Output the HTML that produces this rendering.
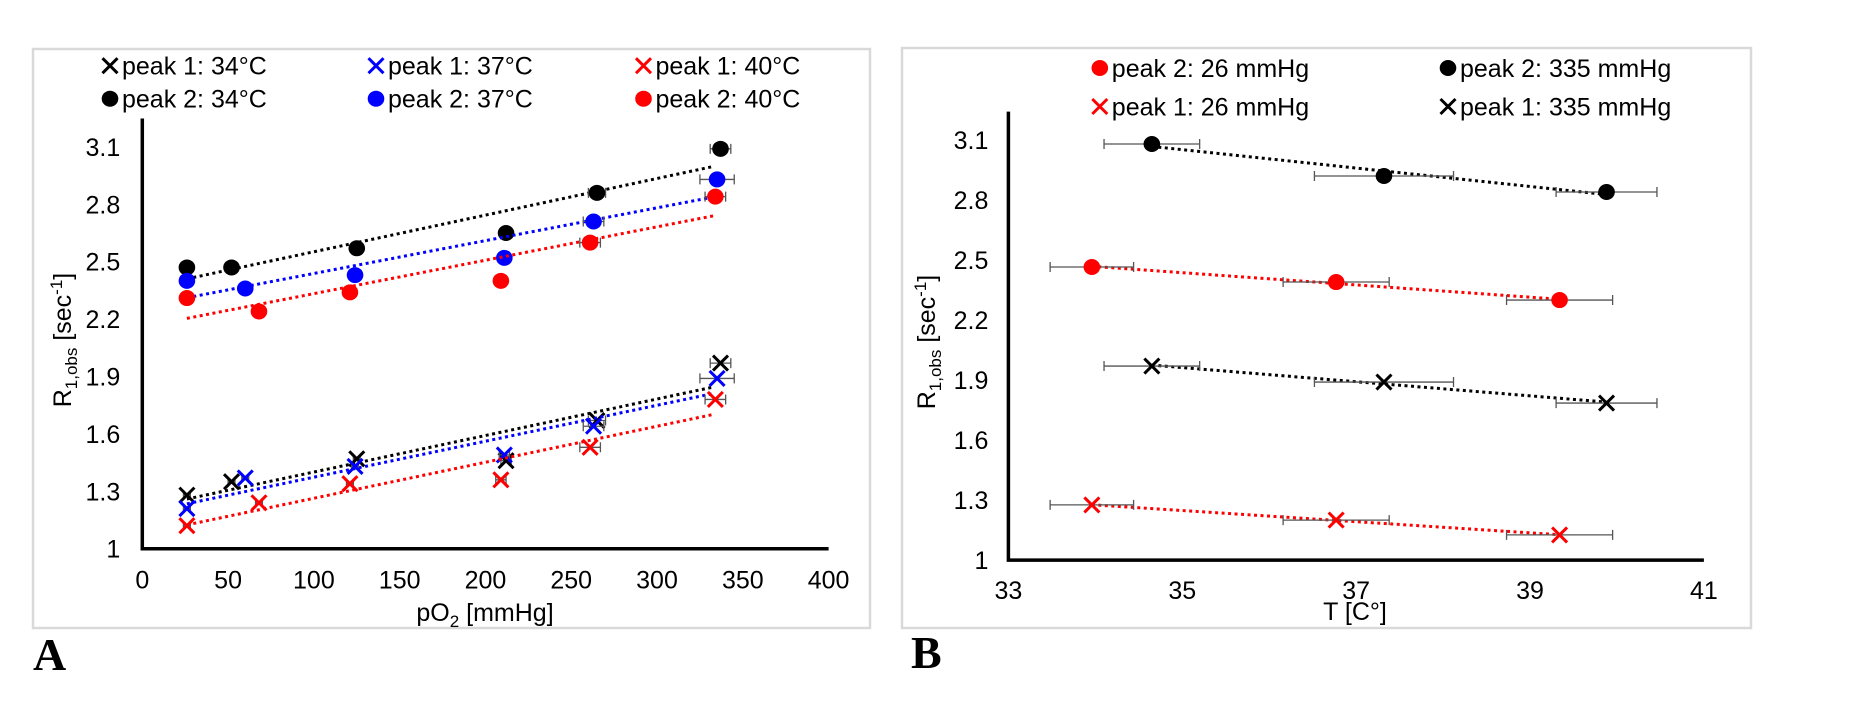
<!DOCTYPE html>
<html><head><meta charset="utf-8">
<style>
html,body{margin:0;padding:0;background:#fff;}
svg{display:block;font-family:"Liberation Sans",Arial,sans-serif;}
</style></head>
<body>
<svg id="fig" width="1855" height="720" viewBox="0 0 1855 720" xmlns="http://www.w3.org/2000/svg">
  <rect x="33" y="49" width="837" height="579" fill="#fff" stroke="#d9d9d9" stroke-width="2.5"/>
  <rect x="902" y="48" width="849" height="580" fill="#fff" stroke="#d9d9d9" stroke-width="2.5"/>
  <g id="ga"></g>
  <g id="gb"></g>
  <text x="33" y="670" font-family="Liberation Serif, serif" font-weight="bold" font-size="46">A</text>
  <text x="911" y="668" font-family="Liberation Serif, serif" font-weight="bold" font-size="46">B</text>
</svg>
<script>
// ---- Chart A data ----
const aXTicks = [0,50,100,150,200,250,300,350,400];
const aYTicks = [1,1.3,1.6,1.9,2.2,2.5,2.8,3.1];
const aX_34 = [26,52,125,212,265,337];
const aX_37 = [26,60,124,211,263,335];
const aX_40 = [26,68,121,209,261,334];
const aP2_34 = [2.47,2.47,2.57,2.65,2.86,3.09];
const aP2_37 = [2.40,2.36,2.43,2.52,2.71,2.93];
const aP2_40 = [2.31,2.24,2.34,2.40,2.60,2.84];
const aP1_34 = [1.28,1.35,1.47,1.46,1.67,1.97];
const aP1_37 = [1.21,1.37,1.43,1.49,1.64,1.89];
const aP1_40 = [1.12,1.24,1.34,1.36,1.53,1.78];
const aErr_34 = [2,2,2,3,5,6];
const aErr_37 = [2,2,2,3,6,10];
const aErr_40 = [2,2,2,3,6,6];
const aLegend = ["peak 1: 34°C","peak 1: 37°C","peak 1: 40°C","peak 2: 34°C","peak 2: 37°C","peak 2: 40°C"];

// ---- Chart B data ----
const bXTicks = [33,35,37,39,41];
const bYTicks = [1,1.3,1.6,1.9,2.2,2.5,2.8,3.1];
const bT_335 = [34.65,37.32,39.88];
const bT_26 = [33.96,36.77,39.34];
const bP2_335 = [3.08,2.92,2.84];
const bP2_26 = [2.465,2.39,2.30];
const bP1_335 = [1.97,1.89,1.785];
const bP1_26 = [1.276,1.20,1.126];
const bErr_335 = [0.55,0.8,0.58];
const bErr_26 = [0.48,0.61,0.61];
const bLegend = ["peak 2: 26 mmHg","peak 2: 335 mmHg","peak 1: 26 mmHg","peak 1: 335 mmHg"];

const NS="http://www.w3.org/2000/svg";
function mk(parent,tag,attrs,txt){const e=document.createElementNS(NS,tag);for(const k in attrs)e.setAttribute(k,attrs[k]);if(txt!==undefined)e.textContent=txt;parent.appendChild(e);return e;}
function fit(xs,ys){const n=xs.length;let sx=0,sy=0,sxx=0,sxy=0;for(let i=0;i<n;i++){sx+=xs[i];sy+=ys[i];sxx+=xs[i]*xs[i];sxy+=xs[i]*ys[i];}const m=(n*sxy-sx*sy)/(n*sxx-sx*sx);return [m,(sy-m*sx)/n];}
function marker(g,type,cx,cy,col,nm){
  let e;
  if(type==='o'){e=mk(g,'ellipse',{cx:cx,cy:cy,rx:8.3,ry:8,fill:col});}
  else{e=mk(g,'path',{d:`M${cx-7.5} ${cy-7.5}L${cx+7.5} ${cy+7.5}M${cx+7.5} ${cy-7.5}L${cx-7.5} ${cy+7.5}`,stroke:col,'stroke-width':3,fill:'none'});}
  
  
  return e;
}
function errbar(g,x1,x2,y,nm){
  const e=mk(g,'path',{d:`M${x1} ${y}H${x2}M${x1} ${y-5}V${y+5}M${x2} ${y-5}V${y+5}`,stroke:'#555','stroke-width':1.3,fill:'none'});
  
  
}

// ---- Chart A ----
(function(){
  const g=document.getElementById('ga');
  const x0=142.3,xs=(828.6-142.3)/400,y0=548.7,ys=(548.7-146.9)/2.1;
  const X=v=>x0+v*xs, Y=v=>y0-(v-1)*ys;
  aYTicks.forEach(t=>{const e=mk(g,'text',{x:X(0)-22,y:Y(t)+9,'font-size':25,'text-anchor':'end'},String(t));
    });
  aXTicks.forEach(t=>{const e=mk(g,'text',{x:X(t),y:Y(1)+40,'font-size':25,'text-anchor':'middle'},String(t));
    });
  const ax=mk(g,'path',{d:`M${X(0)} 118.5V${Y(1)}H${X(400)}`,stroke:'#000','stroke-width':3.5,fill:'none'});
  
  const xt=mk(g,'text',{x:485,y:621,'font-size':25,'text-anchor':'middle'});
  
  xt.innerHTML='pO<tspan font-size="17" dy="6">2</tspan><tspan dy="-6"> [mmHg]</tspan>';
  const yt=mk(g,'text',{x:0,y:0,'font-size':25,'text-anchor':'middle',transform:'translate(71,340) rotate(-90)'});
  
  yt.innerHTML='R<tspan font-size="17" dy="6">1,obs</tspan><tspan dy="-6">  [sec</tspan><tspan font-size="17" dy="-9">-1</tspan><tspan dy="9">]</tspan>';
  const series=[
    [aX_34,aP2_34,aErr_34,'#000','o','peak2-34'],[aX_37,aP2_37,aErr_37,'#0000ff','o','peak2-37'],[aX_40,aP2_40,aErr_40,'#ff0000','o','peak2-40'],
    [aX_34,aP1_34,aErr_34,'#000','x','peak1-34'],[aX_37,aP1_37,aErr_37,'#0000ff','x','peak1-37'],[aX_40,aP1_40,aErr_40,'#ff0000','x','peak1-40']];
  series.forEach(s=>{
    const [xsA,ysA,er,col,type,nm]=s;
    const [m,b]=fit(xsA,ysA);
    const tl=mk(g,'line',{x1:X(26),y1:Y(m*26+b),x2:X(333),y2:Y(m*333+b),stroke:col,'stroke-width':3,'stroke-dasharray':'3 3.5'});
    
    xsA.forEach((x,i)=>errbar(g,X(x-er[i]),X(x+er[i]),Y(ysA[i]),'error-bar-'+nm));
    xsA.forEach((x,i)=>marker(g,type,X(x),Y(ysA[i]),col,'point-'+nm));
  });
  const lx=[110,376,643.5], ly=[65.7,98.7], cols=['#000','#0000ff','#ff0000'];
  aLegend.forEach((l,i)=>{const r=Math.floor(i/3),c=i%3;
    marker(g,r===0?'x':'o',lx[c],ly[r],cols[c],'legend-marker');
    const t=mk(g,'text',{x:lx[c]+12,y:ly[r]+9,'font-size':25},l);
    });
})();

// ---- Chart B ----
(function(){
  const g=document.getElementById('gb');
  const x0=1008.4,xs=(1703.9-1008.4)/8,y0=560.1,ys=(560.1-140)/2.1;
  const X=v=>x0+(v-33)*xs, Y=v=>y0-(v-1)*ys;
  bYTicks.forEach(t=>{const e=mk(g,'text',{x:X(33)-20,y:Y(t)+9,'font-size':25,'text-anchor':'end'},String(t));
    });
  bXTicks.forEach(t=>{const e=mk(g,'text',{x:X(t),y:Y(1)+39,'font-size':25,'text-anchor':'middle'},String(t));
    });
  const ax=mk(g,'path',{d:`M${X(33)} 111.6V${Y(1)}H${X(41)}`,stroke:'#000','stroke-width':3.5,fill:'none'});
  
  const xt=mk(g,'text',{x:1355,y:620,'font-size':25,'text-anchor':'middle'},'T [C°]');
  
  const yt=mk(g,'text',{x:0,y:0,'font-size':25,'text-anchor':'middle',transform:'translate(935,342) rotate(-90)'});
  
  yt.innerHTML='R<tspan font-size="17" dy="6">1,obs</tspan><tspan dy="-6">  [sec</tspan><tspan font-size="17" dy="-9">-1</tspan><tspan dy="9">]</tspan>';
  const series=[
    [bT_335,bP2_335,bErr_335,'#000','o','peak2-335'],[bT_26,bP2_26,bErr_26,'#ff0000','o','peak2-26'],
    [bT_335,bP1_335,bErr_335,'#000','x','peak1-335'],[bT_26,bP1_26,bErr_26,'#ff0000','x','peak1-26']];
  series.forEach(s=>{
    const [xsA,ysA,er,col,type,nm]=s;
    const [m,b]=fit(xsA,ysA);
    const a=xsA[0],z=xsA[xsA.length-1];
    const tl=mk(g,'line',{x1:X(a),y1:Y(m*a+b),x2:X(z),y2:Y(m*z+b),stroke:col,'stroke-width':3,'stroke-dasharray':'3 3.5'});
    
    xsA.forEach((x,i)=>errbar(g,X(x-er[i]),X(x+er[i]),Y(ysA[i]),'error-bar-'+nm));
    xsA.forEach((x,i)=>marker(g,type,X(x),Y(ysA[i]),col,'point-'+nm));
  });
  const lx=[1099.8,1448], ly=[68,106.5];
  const lt=[['o','#ff0000'],['o','#000'],['x','#ff0000'],['x','#000']];
  bLegend.forEach((l,i)=>{const r=Math.floor(i/2),c=i%2;
    marker(g,lt[i][0],lx[c],ly[r],lt[i][1],'legend-marker');
    const t=mk(g,'text',{x:lx[c]+12,y:ly[r]+9,'font-size':25},l);
    });
})();
</script>
</body></html>
